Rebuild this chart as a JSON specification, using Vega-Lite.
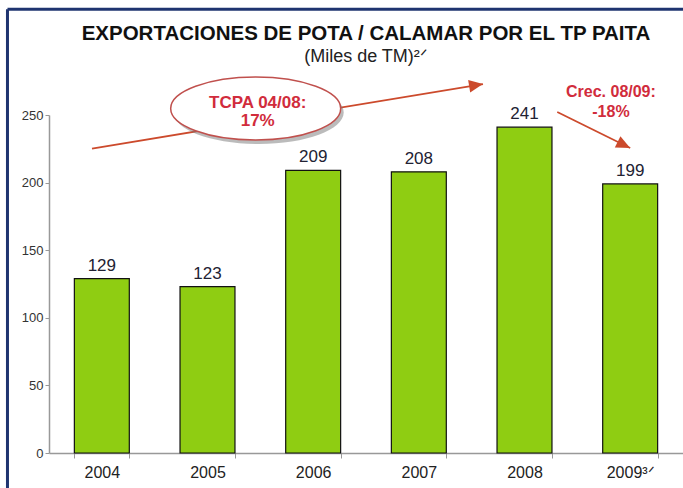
{
  "$schema": "https://vega.github.io/schema/vega-lite/v6.json",
  "width": 634,
  "height": 338,
  "autosize": {"type": "none"},
  "padding": {"left": 49, "top": 115, "right": 0, "bottom": 35},
  "background": "white",
  "config": {
    "view": {"stroke": null},
    "font": "Liberation Sans",
    "text": {"font": "Liberation Sans"}
  },
  "title": {
    "text": "EXPORTACIONES DE POTA / CALAMAR POR EL TP PAITA",
    "subtitle": "(Miles de TM)²ᐟ",
    "anchor": "middle",
    "frame": "group",
    "font": "Liberation Sans",
    "fontSize": 20.5,
    "fontWeight": "bold",
    "color": "#111111",
    "subtitleFont": "Liberation Sans",
    "subtitleFontSize": 18,
    "subtitleColor": "#222222",
    "subtitlePadding": 4,
    "offset": -63
  },
  "datasets": {
    "bars": [
      {"year": "2004", "value": 129},
      {"year": "2005", "value": 123},
      {"year": "2006", "value": 209},
      {"year": "2007", "value": 208},
      {"year": "2008", "value": 241},
      {"year": "2009³ᐟ", "value": 199}
    ],
    "frame": [
      {"seg": "left", "x": -0.393, "y": -28},
      {"seg": "left", "x": -0.393, "y": 328.2},
      {"seg": "top", "x": -0.393, "y": 328.2},
      {"seg": "top", "x": 6.05, "y": 328.2}
    ],
    "arrows": [
      {"id": "a1", "x": 0.407, "y": 225.2},
      {"id": "a1", "x": 4.107, "y": 272.9},
      {"id": "a2", "x": 4.81, "y": 252.2},
      {"id": "a2", "x": 5.50, "y": 225.6}
    ],
    "heads": [
      {"x": 4.107, "y": 272.9, "angle": -9.2},
      {"x": 5.50, "y": 225.6, "angle": 26.3}
    ],
    "ellipse": [
      {"x": 1.956, "y": 254.8}
    ],
    "notes": [
      {"x": 1.975, "y": 259.2, "text": "TCPA 04/08:", "size": 17},
      {"x": 1.975, "y": 245.8, "text": "17%", "size": 17},
      {"x": 5.318, "y": 267.0, "text": "Crec. 08/09:", "size": 16},
      {"x": 5.318, "y": 252.5, "text": "-18%", "size": 16}
    ]
  },
  "layer": [
    {
      "data": {"name": "frame"},
      "mark": {"type": "line", "stroke": "#1f3470", "strokeWidth": 3, "clip": false},
      "encoding": {
        "detail": {"field": "seg"},
        "x": {"field": "x", "type": "quantitative", "scale": {"domain": [0, 6], "nice": false, "zero": false}, "axis": null},
        "y": {
          "field": "y", "type": "quantitative", "scale": {"domain": [0, 250], "nice": false},
          "axis": {
            "orient": "left",
            "title": null, "values": [0, 50, 100, 150, 200, 250], "grid": false,
            "labelFont": "Liberation Sans", "labelFontSize": 13, "labelColor": "#333333",
            "domainColor": "#999999", "tickColor": "#999999", "tickSize": 4, "labelPadding": 2, "domainWidth": 1.5
          }
        }
      }
    },
    {
      "data": {"name": "bars"},
      "layer": [
        {
          "mark": {"type": "bar", "color": "#8fcd12", "stroke": "#111111", "strokeWidth": 1.2},
          "encoding": {
            "x": {
              "field": "year", "type": "nominal", "sort": null,
              "scale": {"paddingInner": 0.48, "paddingOuter": 0.24},
              "axis": {
                "title": null, "labelAngle": 0, "labelFont": "Liberation Sans", "labelFontSize": 16,
                "labelColor": "#222222", "labelPadding": 6, "domainColor": "#999999", "tickColor": "#999999",
                "tickBand": "extent", "tickSize": 5, "domainWidth": 1.5
              }
            },
            "y": {"field": "value", "type": "quantitative", "scale": {"domain": [0, 250], "nice": false}, "title": null}
          }
        },
        {
          "mark": {"type": "text", "baseline": "bottom", "dy": -4, "fontSize": 17, "color": "#222233", "font": "Liberation Sans"},
          "encoding": {
            "x": {"field": "year", "type": "nominal", "sort": null, "scale": {"paddingInner": 0.48, "paddingOuter": 0.24}},
            "y": {"field": "value", "type": "quantitative", "scale": {"domain": [0, 250], "nice": false}, "title": null},
            "text": {"field": "value", "type": "quantitative"}
          }
        }
      ]
    },
    {
      "data": {"name": "arrows"},
      "mark": {"type": "line", "stroke": "#cc4a2c", "strokeWidth": 1.8, "clip": false},
      "encoding": {
        "detail": {"field": "id"},
        "x": {"field": "x", "type": "quantitative", "scale": {"domain": [0, 6], "nice": false, "zero": false}, "axis": null},
        "y": {"field": "y", "type": "quantitative", "scale": {"domain": [0, 250], "nice": false}, "title": null}
      }
    },
    {
      "data": {"name": "heads"},
      "mark": {"type": "point", "shape": "M 0 0 L -1 -0.45 L -1 0.45 Z", "size": 784, "filled": true, "color": "#cc4a2c", "opacity": 1, "clip": false},
      "encoding": {
        "x": {"field": "x", "type": "quantitative", "scale": {"domain": [0, 6], "nice": false, "zero": false}, "axis": null},
        "y": {"field": "y", "type": "quantitative", "scale": {"domain": [0, 250], "nice": false}, "title": null},
        "angle": {"field": "angle", "type": "quantitative", "scale": null}
      }
    },
    {
      "data": {"name": "ellipse"},
      "mark": {"type": "point", "shape": "M -1 0 A 1 0.37 0 1 0 1 0 A 1 0.37 0 1 0 -1 0 Z", "size": 28900, "filled": true, "color": "#777777", "opacity": 0.5, "xOffset": 3, "yOffset": 4, "clip": false},
      "encoding": {
        "x": {"field": "x", "type": "quantitative", "scale": {"domain": [0, 6], "nice": false, "zero": false}, "axis": null},
        "y": {"field": "y", "type": "quantitative", "scale": {"domain": [0, 250], "nice": false}, "title": null}
      }
    },
    {
      "data": {"name": "ellipse"},
      "mark": {"type": "point", "shape": "M -1 0 A 1 0.37 0 1 0 1 0 A 1 0.37 0 1 0 -1 0 Z", "size": 28900, "filled": true, "fill": "white", "stroke": "#c0504d", "strokeWidth": 1.5, "opacity": 1, "fillOpacity": 1, "clip": false},
      "encoding": {
        "x": {"field": "x", "type": "quantitative", "scale": {"domain": [0, 6], "nice": false, "zero": false}, "axis": null},
        "y": {"field": "y", "type": "quantitative", "scale": {"domain": [0, 250], "nice": false}, "title": null}
      }
    },
    {
      "data": {"name": "notes"},
      "mark": {"type": "text", "fontWeight": "bold", "color": "#d12c3c", "font": "Liberation Sans", "baseline": "middle", "align": "center", "clip": false},
      "encoding": {
        "x": {"field": "x", "type": "quantitative", "scale": {"domain": [0, 6], "nice": false, "zero": false}, "axis": null},
        "y": {"field": "y", "type": "quantitative", "scale": {"domain": [0, 250], "nice": false}, "title": null},
        "text": {"field": "text"},
        "size": {"field": "size", "type": "quantitative", "scale": null}
      }
    }
  ],
  "resolve": {"scale": {"x": "independent"}}
}
